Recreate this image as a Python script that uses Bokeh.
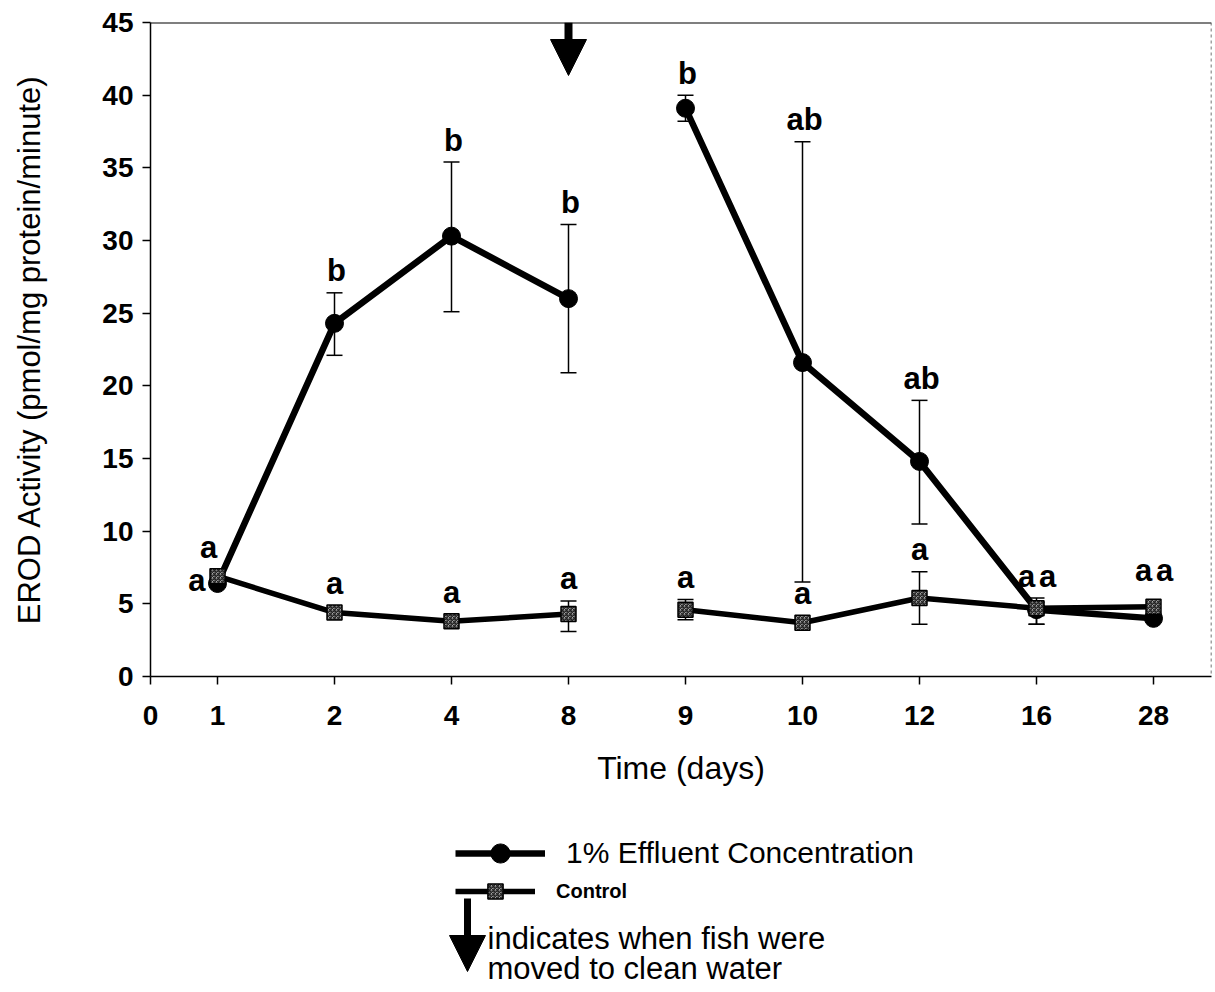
import numpy as np
from bokeh.plotting import figure
from bokeh.layouts import column
from bokeh.models import (ColumnDataSource, Range1d, FixedTicker, Whisker, TeeHead,
                          Arrow, NormalHead, Label, Legend, LegendItem, Span)
from bokeh.core.properties import value
from bokeh.embed import file_html
from bokeh.resources import INLINE

nan = float("nan")

# ---------------- data ----------------
days = ["1", "2", "4", "8", "9", "10", "12", "16", "28"]
effluent = [6.4, 24.3, 30.3, 26.0, 39.1, 21.6, 14.8, 4.6, 4.0]
effluent_lower = [nan, 22.1, 25.1, 20.9, 38.2, 6.5, 10.5, 3.6, nan]
effluent_upper = [nan, 26.4, 35.4, 31.1, 40.0, 36.8, 19.0, 5.1, nan]
control = [6.9, 4.4, 3.8, 4.3, 4.6, 3.7, 5.4, 4.7, 4.8]
control_lower = [nan, nan, nan, 3.1, 3.9, nan, 3.6, 3.6, nan]
control_upper = [nan, nan, nan, 5.2, 5.3, nan, 7.2, 5.4, 5.8]
effluent_letters = ["a", "b", "b", "b", "b", "ab", "ab", "a", "a"]
control_letters = ["a", "a", "a", "a", "a", "a", "a", "a", "a"]
y_ticks = [0, 5, 10, 15, 20, 25, 30, 35, 40, 45]
exposure_samples = 4          # days 1-8 in effluent, then moved to clean water
transfer_day = "8"
series_names = ["1% Effluent Concentration", "Control"]
note_lines = ["indicates when fish were", "moved to clean water"]

# ---------------- layout ----------------
FONT = "Liberation Sans"
BL, BT, BR = 150, 22, 2
FW, FH = 1061, 654
MAIN_H = 800
BB = MAIN_H - BT - FH
LEG_H = 190
X0 = -67 / 117.0
X1 = X0 + FW / 117.0
Y0, Y1 = 0, 45

idx = np.arange(len(days), dtype=float)
eff = np.array(effluent); effl = np.array(effluent_lower); effu = np.array(effluent_upper)
ctl = np.array(control); ctll = np.array(control_lower); ctlu = np.array(control_upper)

p = figure(frame_width=FW, frame_height=FH, x_range=Range1d(X0, X1), y_range=Range1d(Y0, Y1),
           output_backend="svg", toolbar_location=None,
           min_border_left=BL, min_border_top=BT, min_border_right=BR, min_border_bottom=BB,
           background_fill_color="white", border_fill_color="white")
p.outline_line_color = None
p.grid.visible = False

# axes
p.xaxis.ticker = FixedTicker(ticks=[X0] + list(idx))
ov = {X0: "0"}
for i, d in enumerate(days):
    ov[float(i)] = d
p.xaxis.major_label_overrides = ov
p.yaxis.ticker = FixedTicker(ticks=y_ticks)
for ax in (p.xaxis[0], p.yaxis[0]):
    ax.axis_line_color = "black"
    ax.axis_line_width = 1.5
    ax.major_tick_line_color = "black"
    ax.major_tick_line_width = 1.5
    ax.major_tick_out = 8
    ax.major_tick_in = 0
    ax.minor_tick_line_color = None
    ax.major_label_text_font = FONT
    ax.major_label_text_font_style = "bold"
    ax.major_label_text_font_size = "28px"
    ax.major_label_text_color = "black"
    ax.axis_label_text_font = FONT
    ax.axis_label_text_font_style = "normal"
    ax.axis_label_text_color = "black"
p.xaxis.axis_label = "Time (days)"
p.xaxis.axis_label_text_font_size = "32px"
p.xaxis.major_label_standoff = 21
p.xaxis.axis_label_standoff = 22
p.yaxis.axis_label = "EROD Activity (pmol/mg protein/minute)"
p.yaxis.axis_label_text_font_size = "31px"
p.yaxis.major_label_standoff = 9
p.yaxis.axis_label_standoff = 52

# frame lines: solid top, dashed right
p.add_layout(Span(location=Y1, dimension="width", line_color="black", line_width=2))
p.add_layout(Span(location=X1, dimension="height", line_color="#444444", line_width=1.5,
                  line_dash="3 3"))

# error bars
def whisker(lo, up):
    m = ~np.isnan(lo)
    src = ColumnDataSource(dict(x=idx[m], lower=lo[m], upper=up[m]))
    w = Whisker(source=src, base="x", lower="lower", upper="upper", dimension="height",
                line_color="black", line_width=1.5,
                lower_head=TeeHead(size=16, line_color="black", line_width=1.5),
                upper_head=TeeHead(size=16, line_color="black", line_width=1.5))
    p.add_layout(w)

whisker(effl, effu)
whisker(ctll, ctlu)

E_LINE = dict(line_color="black", line_width=6.5, line_join="round")
E_MARK = dict(marker="circle", size=18, fill_color="black", line_color="black")
C_LINE = dict(line_color="black", line_width=5.5, line_join="round")
C_MARK = dict(marker="square", size=15, fill_color="#d8d8d8", line_color="black",
              line_width=1.5, hatch_pattern="criss_cross", hatch_color="#222222",
              hatch_scale=4, hatch_weight=1.2)

n = exposure_samples
p.line(idx[:n], eff[:n], **E_LINE)
p.line(idx[n:], eff[n:], **E_LINE)
p.scatter(idx, eff, **E_MARK)
p.line(idx[:n], ctl[:n], **C_LINE)
p.line(idx[n:], ctl[n:], **C_LINE)
p.scatter(idx, ctl, **C_MARK)

# significance letters (y_offset in px, negative = up)
side_days = {"1"}
shared_days = {"16", "28"}
ax_, ay_, at_, axo, ayo = [], [], [], [], []
sx_, sy_, st_ = [], [], []
for i, d in enumerate(days):
    etop = effu[i] if not np.isnan(effu[i]) else eff[i]
    ctop = ctlu[i] if not np.isnan(ctlu[i]) else ctl[i]
    e_off = -22 if not np.isnan(effu[i]) else -29
    c_off = -22 if not np.isnan(ctlu[i]) else -29
    if d in side_days:
        sx_.append(idx[i]); sy_.append(eff[i]); st_.append(effluent_letters[i])
        ax_.append(idx[i]); ay_.append(ctop); at_.append(control_letters[i]); axo.append(-9); ayo.append(c_off)
    elif d in shared_days:
        top = max(etop, ctop)
        ax_ += [idx[i], idx[i]]; ay_ += [top, top]
        at_ += [effluent_letters[i], control_letters[i]]
        axo += [-10, 11]; ayo += [-22, -22]
    else:
        ax_ += [idx[i], idx[i]]; ay_ += [etop, ctop]
        at_ += [effluent_letters[i], control_letters[i]]
        axo += [2, 0]; ayo += [e_off, c_off]

p.text(x="x", y="y", text="t", x_offset="xo", y_offset="yo",
       source=ColumnDataSource(dict(x=ax_, y=ay_, t=at_, xo=axo, yo=ayo)),
       text_align="center", text_baseline="alphabetic", text_font=value(FONT),
       text_font_style="bold", text_font_size="31px", text_color="black")
p.text(x=sx_, y=sy_, text=st_, x_offset=-12, y_offset=-3,
       text_align="right", text_baseline="middle", text_font=value(FONT),
       text_font_style="bold", text_font_size="31px", text_color="black")

# arrow at transfer to clean water
tx = float(days.index(transfer_day))
tip_y = Y1 - (75 - BT) * (Y1 - Y0) / FH
p.add_layout(Arrow(end=NormalHead(size=36, fill_color="black", line_color="black", line_width=1),
                   x_start=tx, y_start=Y1, x_end=tx, y_end=tip_y,
                   line_color="black", line_width=8))

# ---------------- legend / note panel (page-pixel coordinates) ----------------
q = figure(frame_width=FW, frame_height=LEG_H, x_range=Range1d(BL, BL + FW),
           y_range=Range1d(MAIN_H + LEG_H, MAIN_H), output_backend="svg",
           toolbar_location=None, min_border_left=BL, min_border_right=BR,
           min_border_top=0, min_border_bottom=0, background_fill_color="white",
           border_fill_color="white")
q.axis.visible = False
q.grid.visible = False
q.outline_line_color = None

e_l = q.line(x=[nan], y=[nan], **E_LINE)
e_s = q.scatter(x=[nan], y=[nan], **E_MARK)
c_l = q.line(x=[nan], y=[nan], **C_LINE)
c_s = q.scatter(x=[nan], y=[nan], **C_MARK)

def make_legend(label, rends, loc, gw, gh, fs, style):
    lg = Legend(items=[LegendItem(label=label, renderers=rends)], location=loc,
                glyph_width=gw, glyph_height=gh, label_standoff=21,
                label_text_font=FONT, label_text_font_size=fs, label_text_font_style=style,
                label_text_color="black", padding=0, margin=0, spacing=0,
                border_line_color=None, background_fill_alpha=0)
    q.add_layout(lg)

bottom = MAIN_H + LEG_H
# legend location is relative to the panel frame (bottom-left, y up)
make_legend(series_names[0], [e_l, e_s], (455 - BL, bottom - 877), 90, 48, "30px", "normal")
make_legend(series_names[1], [c_l, c_s], (455 - BL, bottom - 910), 80, 38, "20px", "bold")

q.add_layout(Arrow(end=NormalHead(size=36, fill_color="black", line_color="black", line_width=1),
                   x_start=467, y_start=898, x_end=467, y_end=971,
                   line_color="black", line_width=7))
for k, txt in enumerate(note_lines):
    q.add_layout(Label(x=487, y=938 + 30 * k, text=txt, text_font=FONT,
                       text_font_size="31px", text_baseline="middle", text_align="left",
                       text_color="black"))

layout = column(p, q, spacing=0)
open("out.html", "w").write(file_html(layout, INLINE))
